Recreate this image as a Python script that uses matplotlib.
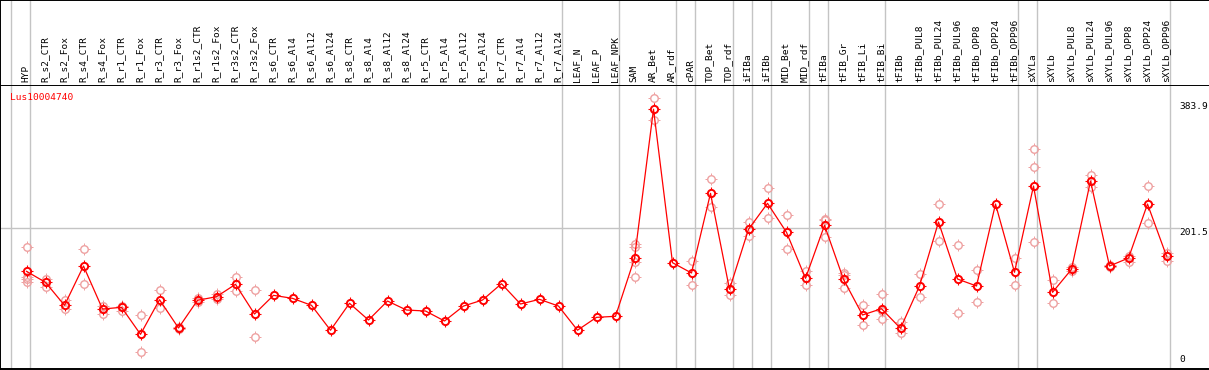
import matplotlib.pyplot as plt
from matplotlib.path import Path
from matplotlib.transforms import blended_transform_factory

# ---- donnees ----
gene = "Lus10004740"

samples = ["HYP",
           "R_s2_CTR", "R_s2_Fox", "R_s4_CTR", "R_s4_Fox", "R_r1_CTR", "R_r1_Fox",
           "R_r3_CTR", "R_r3_Fox", "R_r1s2_CTR", "R_r1s2_Fox", "R_r3s2_CTR", "R_r3s2_Fox",
           "R_s6_CTR", "R_s6_Al4", "R_s6_Al12", "R_s6_Al24", "R_s8_CTR", "R_s8_Al4",
           "R_s8_Al12", "R_s8_Al24", "R_r5_CTR", "R_r5_Al4", "R_r5_Al12", "R_r5_Al24",
           "R_r7_CTR", "R_r7_Al4", "R_r7_Al12", "R_r7_Al24",
           "LEAF_N", "LEAF_P", "LEAF_NPK",
           "SAM", "AR_Bet", "AR_rdf",
           "cPAR",
           "TOP_Bet", "TOP_rdf",
           "iFIBa",
           "iFIBb",
           "MID_Bet", "MID_rdf",
           "tFIBa",
           "tFIB_Gr", "tFIB_Li", "tFIB_Bi",
           "tFIBb", "tFIBb_PUL8", "tFIBb_PUL24", "tFIBb_PUL96", "tFIBb_OPP8",
           "tFIBb_OPP24", "tFIBb_OPP96",
           "sXYLa",
           "sXYLb", "sXYLb_PUL8", "sXYLb_PUL24", "sXYLb_PUL96", "sXYLb_OPP8",
           "sXYLb_OPP24", "sXYLb_OPP96"]

# nombre d'echantillons par groupe (separes par un trait gris)
group_sizes = [1, 28, 3, 3, 1, 2, 1, 1, 2, 1, 3, 7, 1, 7]

means = [135.7,
         118.8, 83.6, 143.8, 77.9, 80.6, 39.2, 92.2, 48.9, 91.3, 96.8, 115.8, 70.3,
         98.9, 94.3, 83.6, 45.5, 86.7, 61.1, 90.2, 76.4, 74.9, 59.6, 82.5, 91.7,
         116.7, 85.6, 92.8, 82.5,
         45.5, 65.2, 66.8,
         155.6, 383.9, 148.9,
         133.1,
         255.1, 108.1,
         200.0,
         239.8,
         195.4, 125.0,
         206.1,
         123.4, 68.8, 78.4,
         48.4, 113.2, 211.2, 123.9, 113.2, 238.7, 134.2,
         266.3,
         103.5, 138.7, 274.0, 143.8, 156.0, 238.7, 159.1]

replicates = [[172.4, 126.5, 123.4, 118.8],
              [124.3, 112.1], [91.3, 77.5], [169.4, 115.8], [82.5, 70.8],
              [82.5, 75.3], [68.3, 11.6], [106.6, 79.0], [50.8, 46.6],
              [95.3, 89.1], [100.5, 92.8], [127.0, 106.0], [106.6, 35.4],
              [], [], [], [], [], [], [], [], [], [], [], [], [], [], [], [],
              [], [], [],
              [177.0, 172.4, 150.4, 127.4], [401.1, 367.6], [],
              [151.0, 114.2],
              [277.0, 234.6], [118.2, 98.9],
              [211.2, 189.3],
              [263.3, 216.8],
              [221.4, 169.8], [135.7, 114.2],
              [216.2, 213.8, 188.7],
              [132.6, 129.6, 110.6], [84.1, 53.0], [100.9, 74.4, 62.2],
              [58.5, 40.7], [131.1, 95.9], [238.3, 181.6], [175.5, 71.8],
              [137.7, 88.2], [], [156.0, 114.7],
              [322.5, 294.9, 180.6],
              [121.9, 87.1], [141.8, 135.7], [283.2, 265.2], [145.3, 141.8],
              [159.1, 150.4], [265.8, 209.2], [164.2, 152.2]]

axis_labels = ["383.9", "201.5", "0"]
mid_value = 201.5

# ---- mise en page ----
W, H = 1209, 370
rouge = "#ff0000"
rose = "#eea0a0"
gris = "#c4c4c4"
police = "DejaVu Sans Mono"

fig = plt.figure(figsize=(W / 100, H / 100), dpi=100)
ax = fig.add_axes([0, 1 / H, 1, 284 / H])
head = fig.add_axes([0, 285 / H, 1, 85 / H], sharex=ax)

# une colonne = 19 px, premiere colonne a 26.5 px
ax.set_xlim(-26.5 / 19, (W - 26.5) / 19)
ax.set_ylim(-13.9, 421.0)
head.set_ylim(0, 1)

for a in (ax, head):
    a.set_xticks([])
    a.set_yticks([])
    a.spines['right'].set_visible(False)
    for s in ('left', 'top', 'bottom'):
        a.spines[s].set_linewidth(1.4)
head.spines['bottom'].set_visible(False)

# traits gris verticaux entre les groupes
bornes = [-1]
for n in group_sizes:
    bornes.append(bornes[-1] + n)
for b in bornes:
    ax.axvline(b + 0.2, color=gris, lw=1, zorder=1)
    head.axvline(b + 0.2, color=gris, lw=1, zorder=1)

ax.axhline(mid_value, xmax=0.975, color=gris, lw=1, zorder=1)

# petits traits autour des cercles
ticks = Path([(0, 0.72), (0, 1), (0, -0.72), (0, -1), (0.72, 0), (1, 0), (-0.72, 0), (-1, 0)],
             [Path.MOVETO, Path.LINETO] * 4)

# replicats
for i, reps in enumerate(replicates):
    if not reps:
        continue
    xs = [i] * len(reps)
    ax.plot(xs, reps, ls='none', marker='o', ms=5.4, mfc='none', mec=rose, mew=1.0, zorder=2)
    ax.plot(xs, reps, ls='none', marker=ticks, ms=8, mec=rose, mew=0.7, zorder=2)

# moyennes
xs = list(range(len(means)))
ax.plot(xs, means, color=rouge, lw=0.9, zorder=3)
ax.plot(xs, means, ls='none', marker='o', ms=5.2, mfc='none', mec=rouge, mew=1.4, zorder=4)
ax.plot(xs, means, ls='none', marker=ticks, ms=8.6, mec=rouge, mew=0.8, zorder=4)

# noms des echantillons
tr = blended_transform_factory(head.transData, head.transAxes)
for i, nom in enumerate(samples):
    head.text(i - 0.05, 0.035, nom, rotation=90, ha='center', va='bottom', transform=tr,
              fontsize=6.8, family=police)

ax.text(10 / W, 0.972, gene, color=rouge, ha='left', va='top', transform=ax.transAxes,
        fontsize=6.8, family=police)

# valeurs a droite
tr2 = blended_transform_factory(ax.transAxes, ax.transData)
ax.text(1179 / W, float(axis_labels[0]), axis_labels[0], ha='left', va='baseline',
        transform=tr2, fontsize=6.8, family=police)
ax.text(1179 / W, float(axis_labels[1]), axis_labels[1], ha='left', va='top',
        transform=tr2, fontsize=6.8, family=police)
ax.text(1179 / W, float(axis_labels[2]), axis_labels[2], ha='left', va='center',
        transform=tr2, fontsize=6.8, family=police)

fig.savefig("out.png", dpi=100)
